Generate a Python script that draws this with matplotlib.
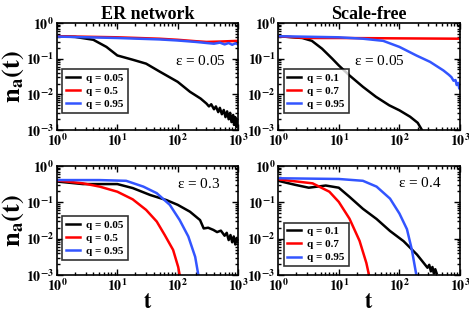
import numpy as np
import matplotlib
matplotlib.use("Agg")
import matplotlib.pyplot as plt

plt.rcParams['font.family'] = ['Liberation Serif', 'DejaVu Serif']
plt.rcParams['mathtext.fontset'] = 'stix'

# ---- data (t, log10 n_a) ----
# ER network, eps = 0.05
er1_q005_t = [1, 2, 4, 6.6, 10, 18, 30, 50, 100, 160, 240, 300, 330, 360, 400, 430, 470, 500, 540, 580, 620, 660, 700, 740, 780, 830, 860, 900, 940, 970, 1000]
er1_q005_y = [-0.37, -0.39, -0.47, -0.67, -0.91, -1.03, -1.14, -1.36, -1.65, -1.93, -2.12, -2.26, -2.34, -2.28, -2.42, -2.34, -2.50, -2.38, -2.56, -2.44, -2.64, -2.48, -2.70, -2.52, -2.78, -2.58, -2.86, -2.64, -2.92, -2.70, -2.85]
er1_q05_t = [1, 10, 50, 100, 200, 300, 500, 700, 1000]
er1_q05_y = [-0.37, -0.40, -0.44, -0.47, -0.51, -0.53, -0.52, -0.51, -0.50]
er1_q095_t = [1, 10, 50, 100, 200, 300, 400, 500, 600, 700, 800, 900, 1000]
er1_q095_y = [-0.38, -0.42, -0.46, -0.49, -0.53, -0.56, -0.58, -0.55, -0.60, -0.56, -0.61, -0.57, -0.60]

# Scale-free, eps = 0.05
sf1_q01_t = [1, 2.5, 3.6, 5.3, 7.8, 10, 15, 25, 41, 68, 100, 150, 200, 235]
sf1_q01_y = [-0.37, -0.42, -0.50, -0.72, -1.00, -1.19, -1.47, -1.79, -2.07, -2.31, -2.45, -2.63, -2.80, -3.0]
sf1_q07_t = [1, 3, 10, 100, 1000]
sf1_q07_y = [-0.37, -0.42, -0.42, -0.43, -0.44]
sf1_q095_t = [1, 10, 25, 54, 100, 190, 320, 530, 650, 720, 780, 840, 880, 930, 970, 1000]
sf1_q095_y = [-0.37, -0.40, -0.44, -0.50, -0.67, -0.91, -1.09, -1.33, -1.45, -1.52, -1.62, -1.60, -1.74, -1.68, -1.84, -1.78]

# ER network, eps = 0.3
er2_q005_t = [1, 2.7, 5.1, 10, 18, 35, 65, 100, 160, 235, 270, 320, 390, 450, 520, 600, 650, 700, 750, 800, 850, 900, 950, 1000]
er2_q005_y = [-0.43, -0.50, -0.50, -0.50, -0.61, -0.80, -0.94, -1.07, -1.26, -1.49, -1.72, -1.70, -1.76, -1.82, -1.78, -1.92, -1.84, -2.04, -1.90, -2.10, -1.94, -2.16, -1.98, -2.06]
er2_q05_t = [1, 2.7, 5.1, 10, 18, 30, 45, 61, 84, 102, 108]
er2_q05_y = [-0.40, -0.48, -0.57, -0.71, -0.92, -1.21, -1.53, -1.90, -2.31, -2.78, -3.0]
er2_q095_t = [1, 5, 14, 27, 45, 74, 108, 150, 195, 220]
er2_q095_y = [-0.39, -0.39, -0.41, -0.57, -0.75, -1.07, -1.49, -1.94, -2.50, -3.0]

# Scale-free, eps = 0.4
sf2_q01_t = [1, 1.9, 3.2, 6.1, 10, 15, 25, 42, 70, 117, 195, 260, 290, 310, 330, 350, 370, 390, 410]
sf2_q01_y = [-0.41, -0.52, -0.60, -0.54, -0.60, -0.85, -1.18, -1.46, -1.79, -2.07, -2.44, -2.70, -2.80, -2.72, -2.90, -2.78, -2.96, -2.84, -2.95]
sf2_q07_t = [1, 3.7, 7, 10, 15, 22, 28.5, 31.5]
sf2_q07_y = [-0.37, -0.48, -0.71, -0.99, -1.45, -2.06, -2.67, -3.0]
sf2_q095_t = [1, 10, 25, 42, 70, 100, 133, 160, 190]
sf2_q095_y = [-0.34, -0.36, -0.41, -0.57, -0.90, -1.31, -1.74, -2.30, -3.0]

tick_vals = [1, 10, 100, 1000]
xtick_labels = [r'$\mathbf{10^{0}}$', r'$\mathbf{10^{1}}$', r'$\mathbf{10^{2}}$', r'$\mathbf{10^{3}}$']
ytick_vals = [1e-3, 1e-2, 1e-1, 1]
ytick_labels = [r'$\mathbf{10^{-3}}$', r'$\mathbf{10^{-2}}$', r'$\mathbf{10^{-1}}$', r'$\mathbf{10^{0}}$']

colors = ['black', '#ff0000', '#3355ff']

panels = [
    dict(pos=[0.1215, 0.594, 0.386, 0.334], title='ER network', eps=r'$\mathregular{\varepsilon}$ = 0.05', epos=(0.79, 0.645),
         labels=['q = 0.05', 'q = 0.5', 'q = 0.95'], leg_y=0.16,
         series=[(er1_q005_t, er1_q005_y), (er1_q05_t, er1_q05_y), (er1_q095_t, er1_q095_y)]),
    dict(pos=[0.593, 0.594, 0.388, 0.334], title='Scale-free', eps=r'$\mathregular{\varepsilon}$ = 0.05', epos=(0.555, 0.645),
         labels=['q = 0.1', 'q = 0.7', 'q = 0.95'], leg_y=0.16,
         series=[(sf1_q01_t, sf1_q01_y), (sf1_q07_t, sf1_q07_y), (sf1_q095_t, sf1_q095_y)]),
    dict(pos=[0.1215, 0.1406, 0.386, 0.341], title=None, eps=r'$\mathregular{\varepsilon}$ = 0.3', epos=(0.78, 0.835),
         labels=['q = 0.05', 'q = 0.5', 'q = 0.95'], leg_y=0.14,
         series=[(er2_q005_t, er2_q005_y), (er2_q05_t, er2_q05_y), (er2_q095_t, er2_q095_y)]),
    dict(pos=[0.593, 0.1406, 0.388, 0.341], title=None, eps=r'$\mathregular{\varepsilon}$ = 0.4', epos=(0.78, 0.84),
         labels=['q = 0.1', 'q = 0.7', 'q = 0.95'], leg_y=0.08,
         series=[(sf2_q01_t, sf2_q01_y), (sf2_q07_t, sf2_q07_y), (sf2_q095_t, sf2_q095_y)]),
]

fig = plt.figure(figsize=(4.69, 3.20), dpi=100)

for i, p in enumerate(panels):
    ax = fig.add_axes(p['pos'])
    for (t, y), c, lab in zip(p['series'], colors, p['labels']):
        ax.plot(t, 10 ** np.array(y), color=c, lw=1.8, label=lab)
    ax.set_xscale('log')
    ax.set_yscale('log')
    ax.set_xlim(1, 1000)
    ax.set_ylim(1e-3, 1)
    ax.set_xticks(tick_vals)
    ax.set_xticklabels(xtick_labels, fontsize=10)
    ax.set_yticks(ytick_vals)
    ax.set_yticklabels(ytick_labels, fontsize=10)
    ax.tick_params(which='both', direction='in', top=True, right=True, width=1.0)
    ax.tick_params(which='major', length=4, pad=2)
    ax.tick_params(which='minor', length=2)
    for s in ax.spines.values():
        s.set_linewidth(1.2)
    if p['title']:
        ax.set_title(p['title'], fontsize=13, fontweight='bold', pad=3)
    ax.text(p['epos'][0], p['epos'][1], p['eps'], transform=ax.transAxes,
            ha='center', va='center', fontsize=11)
    if i % 2 == 0:
        ax.set_ylabel(r'$\mathbf{n_a(t)}$', fontsize=19, labelpad=0)
    if i >= 2:
        ax.set_xlabel(r'$\mathbf{t}$', fontsize=16, labelpad=0)
    leg = ax.legend(loc='lower left', bbox_to_anchor=(0.03, p['leg_y']),
                    prop={'weight': 'bold', 'size': 8}, frameon=True, fancybox=False,
                    edgecolor='black', handlelength=1.2, handletextpad=0.6,
                    borderpad=0.35, labelspacing=0.3, borderaxespad=0)
    leg.get_frame().set_linewidth(1.2)

fig.savefig('out.png', dpi=100)
